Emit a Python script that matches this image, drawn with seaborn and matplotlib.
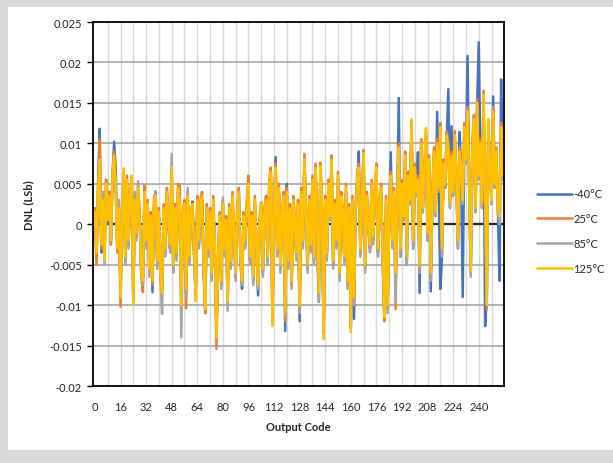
import numpy as np
import pandas as pd
import seaborn as sns
from matplotlib import pyplot as plt
from matplotlib.patches import Rectangle
from matplotlib.ticker import FuncFormatter, MultipleLocator

# DNL readings, units of 1e-4 LSb, one value per output code 0..255
dnl_m40 = [
    5, -40, 50, 118, -35, 25, -40, 55, 0, 40, -25, 55, 102, 70, -30, 15,
    -85, 5, 65, -45, 50, -25, 30, 55, -95, 25, -15, 40, 10, -65, -65, 35,
    -25, 20, -50, 5, -84, 25, 30, -50, 10, -65, -80, 15, -35, 35, 0, -30,
    65, -55, 15, -40, 40, 25, -95, 5, 20, -85, 30, -45, 10, 28, -35, -90,
    25, -25, 20, 30, -55, -110, 15, -35, 10, -65, 25, -30, -135, -45, 5, -75,
    20, -35, 0, -90, 15, -50, 30, -15, -65, 10, 35, -40, -80, 5, -25, 20,
    45, -45, 5, -70, 25, -25, -88, 0, 20, -60, 10, 25, -45, 45, 60, -120,
    15, 83, -35, 40, -55, 5, 30, -132, 50, -50, 15, -75, 25, 0, -40, 20,
    -120, 35, -25, 80, 5, -55, 25, -30, 50, -45, 72, -15, -96, 70, 15, -135,
    25, -40, 45, 5, 80, -50, 20, -25, 55, -65, 30, 10, -45, 40, -75, 15,
    -128, 25, -117, 15, 50, 90, -35, 20, 90, -55, 30, 5, -30, 45, -20, 35,
    65, -35, 15, 40, -45, -118, 25, -105, 10, 89, -25, 35, -70, 20, 156, -40,
    45, 5, 80, -50, 55, 25, 128, -30, 65, 35, 89, -85, 95, 15, 60, 110,
    -20, 75, -83, 30, 85, 10, 139, 40, -80, -40, 70, 45, 105, 167, 20, 121,
    35, 105, 55, -30, 114, 65, -90, 115, 75, 208, 50, -60, 90, 125, 15, 145,
    225, 95, 20, 150, -126, -90, 120, 65, 25, 158, 45, 85, 15, -70, 179, 55,
]
dnl_25 = [
    20, -50, 45, 105, -30, 35, -40, 55, 10, 40, -25, 65, 90, 50, -35, 25,
    -102, 15, 65, -45, 60, -25, 40, 55, -95, 35, -15, 50, 10, -65, -84, 48,
    -25, 30, -60, 15, -75, 35, 30, -50, 20, -65, -80, 25, -35, 45, 10, -30,
    65, -55, 25, -40, 50, 48, -95, 15, 30, -104, 40, -45, 20, 20, -35, -90,
    35, -25, 30, 40, -55, -110, 25, -35, 20, -65, 35, -30, -154, -45, 15, -75,
    30, -35, 10, -100, 25, -50, 40, -15, -65, 20, 45, -40, -75, 15, -25, 30,
    60, -45, 15, -70, 35, -25, -80, 10, 27, -60, 20, 35, -45, 55, 70, -120,
    25, 75, -35, 50, -55, 15, 40, -120, 45, -50, 25, -75, 35, 10, -40, 30,
    -105, 45, -25, 87, 15, -55, 35, -30, 60, -45, 75, -15, -90, 76, 25, -135,
    35, -40, 55, 15, 85, -50, 30, -25, 65, -65, 40, 20, -45, 50, -75, 25,
    -128, 35, -95, 25, 60, 75, -35, 30, 92, -55, 40, 15, -30, 55, -20, 45,
    75, -35, 25, 50, -45, -120, 35, -105, 20, 65, -25, 45, -105, 30, 100, -35,
    55, 15, 90, -45, 65, 35, 125, -25, 75, 45, 60, -55, 105, 25, 70, 115,
    -15, 85, -65, 40, 95, 20, 105, 50, 125, -35, 80, 55, 115, 100, 30, 90,
    45, 115, 65, -25, 95, 75, 35, 125, 85, 145, 60, -50, 100, 135, 25, 155,
    65, 105, 30, 165, 45, -105, 125, 75, 35, 145, 55, 95, 25, 5, 125, 65,
]
dnl_85 = [
    10, -30, 35, 50, -20, 40, -50, 45, 15, 30, -15, 55, 70, 40, -25, 30,
    -80, 20, 60, -50, 45, -30, 40, 50, -90, 40, -20, 53, 0, -55, -75, 35,
    -30, 20, -65, 5, -60, 25, 41, -55, 10, -70, -111, 15, -40, 35, 0, -35,
    87, -60, 15, -45, 40, 25, -140, 5, 20, -90, 45, -50, 10, 20, -40, -85,
    25, -30, 20, 30, -60, -95, 15, -40, 10, -70, 25, -35, -130, -50, 5, -80,
    33, -40, 0, -107, 15, -55, 30, -20, -70, 10, 35, -45, -75, 5, -30, 20,
    45, -50, 5, -75, 25, -30, -80, 0, 20, -65, 10, 25, -50, 45, 60, -115,
    15, 65, -40, 40, -60, 5, 30, -115, 35, -55, 15, -80, 25, 0, -45, 20,
    -110, 35, -30, 75, 5, -60, 25, -35, 50, -50, 65, -20, -95, 68, 15, -130,
    25, -45, 45, 5, 75, -55, 20, -30, 55, -70, 30, 10, -50, 40, -80, 15,
    -125, 25, -100, 15, 50, 65, -40, 20, 85, -60, 30, 5, -35, 45, -25, 35,
    65, -40, 15, 40, -50, -110, 25, -110, 10, 55, -30, 35, -95, 20, 90, -40,
    45, 5, 80, -50, 55, 25, 120, -30, 65, 35, 50, -60, 95, 15, 60, 110,
    -20, 75, -70, 30, 85, 10, 95, 40, 115, -40, 70, 45, 105, 90, 20, 80,
    35, 105, 55, -30, 85, 65, 25, 115, 75, 135, 50, -65, 90, 125, 15, 145,
    55, 95, 20, 150, 35, -95, 120, 65, 25, 135, 45, 85, 15, 0, 115, 55,
]
dnl_125 = [
    15, -35, 40, 80, -25, 30, -45, 50, 5, 35, -20, 60, 85, 45, -30, 20,
    -90, 10, 69, -40, 55, -20, 35, 60, -99, 30, -10, 45, 5, -60, -70, 40,
    -20, 25, -55, 10, -70, 30, 35, -45, 15, -60, -85, 20, -30, 40, 5, -25,
    70, -50, 20, -35, 45, 30, -100, 10, 25, -80, 35, -40, 15, 25, -30, -95,
    30, -20, 25, 35, -50, -105, 20, -30, 15, -60, 30, -25, -140, -40, 10, -70,
    25, -30, 5, -95, 20, -45, 35, -10, -60, 15, 40, -35, -70, 10, -20, 25,
    50, -40, 10, -65, 30, -20, -75, 5, 25, -55, 15, 30, -40, 50, 65, -126,
    20, 70, -30, 45, -50, 10, 35, -110, 40, -45, 20, -70, 30, 5, -35, 25,
    -100, 40, -20, 80, 10, -50, 30, -25, 55, -40, 70, -10, -85, 72, 20, -142,
    30, -35, 50, 10, 80, -45, 25, -20, 60, -60, 35, 15, -40, 45, -70, 20,
    -133, 30, -90, 20, 55, 70, -30, 25, 88, -50, 35, 10, -25, 50, -15, 40,
    70, -30, 20, 45, -40, -115, 30, -100, 15, 60, -20, 40, -60, 25, 95, -30,
    50, 10, 85, -40, 60, 30, 130, -20, 70, 40, 55, -50, 100, 20, 65, 119,
    -10, 80, -60, 35, 90, 15, 100, 45, 120, -30, 75, 50, 110, 95, 25, 85,
    40, 110, 60, -20, 90, 70, 30, 120, 80, 140, 55, -58, 95, 130, 20, 150,
    60, 100, 25, 160, 40, -100, 130, 70, 30, 140, 50, 90, 20, 10, 120, 60,
]
temps = ['-40°C', '25°C', '85°C', '125°C']
colors = ['#4472C4', '#ED7D31', '#A5A5A5', '#FFC000']

codes = np.arange(256)
series = [dnl_m40, dnl_25, dnl_85, dnl_125]
df = pd.concat([
    pd.DataFrame({'code': codes, 'dnl': np.array(v) / 10000, 'temp': t})
    for t, v in zip(temps, series)
])

sns.set_theme(style='white')
plt.rcParams['font.family'] = ['Lato', 'DejaVu Sans']

fig = plt.figure(figsize=(6.13, 4.64), dpi=100, facecolor='#d9d9d9')
# white chart area inside the grey frame
fig.add_artist(Rectangle((8 / 613, 13 / 464), 1, 443 / 464,
                         transform=fig.transFigure, facecolor='white',
                         edgecolor='none', zorder=-5))
ax = fig.add_axes([93 / 613, 1 - 387 / 464, 411 / 613, 364 / 464])
ax.set_facecolor('white')

# gridlines: light vertical every 8 codes, darker horizontal
for c in range(8, 256, 8):
    ax.axvline(c, color='#d9d9d9', lw=1, zorder=0)
for v in np.arange(-0.02, 0.0251, 0.005):
    if abs(v) > 1e-9:
        ax.axhline(v, color='#a6a6a6', lw=1.2, zorder=0)
ax.axhline(0, color='#262626', lw=1.6, zorder=1)

sns.lineplot(data=df, x='code', y='dnl', hue='temp', hue_order=temps,
             palette=colors, linewidth=1.8, ax=ax, zorder=2)

ax.set_xlim(-1.2, 255.8)
ax.set_ylim(-0.02, 0.025)
ax.yaxis.set_major_locator(MultipleLocator(0.005))
ax.yaxis.set_major_formatter(FuncFormatter(lambda v, p: f'{round(v, 4):g}' if abs(v) > 1e-9 else '0'))
ax.set_xticks(range(0, 241, 16))
ax.tick_params(axis='y', which='major', left=True, length=4, width=1, color='black',
               labelsize=8, pad=4)
ax.tick_params(axis='x', bottom=False, labelsize=8, pad=5)
for s in ax.spines.values():
    s.set_color('black')
    s.set_linewidth(1.3)

ax.set_xlabel('Output Code', fontsize=8, fontweight='bold', labelpad=6)
ax.set_ylabel('DNL (LSb)', fontsize=8, fontweight='bold', labelpad=11)

sns.move_legend(ax, 'center left', bbox_to_anchor=(1.055, 0.425), frameon=False,
                title=None, fontsize=8, labelspacing=1.25, handlelength=3.2,
                handletextpad=0.1)

fig.savefig('out.png', dpi=100, facecolor=fig.get_facecolor())
